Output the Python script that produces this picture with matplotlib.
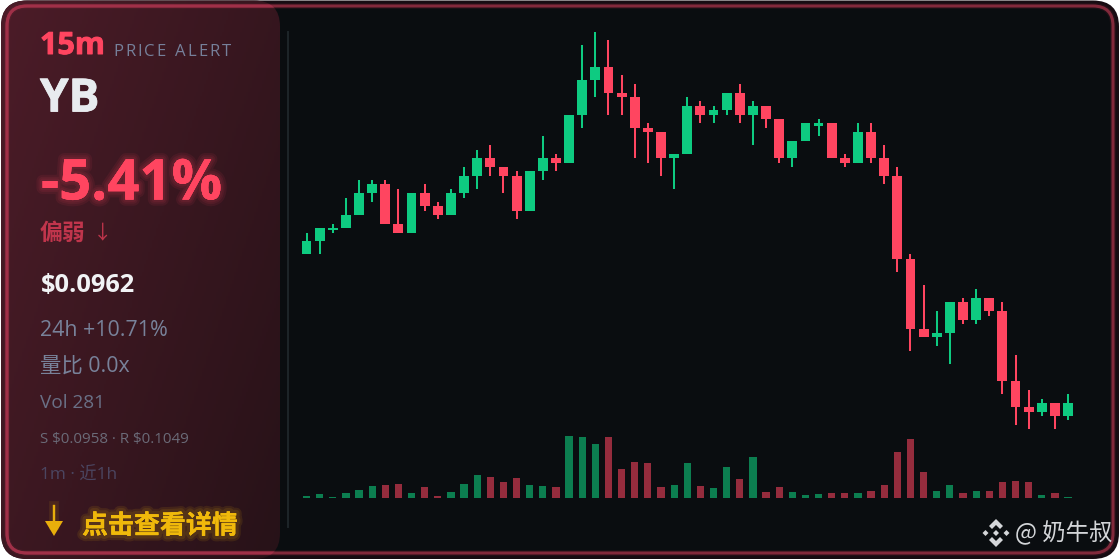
import numpy as np
import matplotlib
matplotlib.use('Agg')
import matplotlib.pyplot as plt
import matplotlib.patheffects as pe
from matplotlib.patches import FancyBboxPatch, Polygon

# price data, in units of 0.0001
opens = [996, 999, 1002, 1002, 1005, 1010, 1012, 1003, 1001, 1010, 1007, 1005, 1010, 1014, 1018, 1016, 1014, 1006, 1015, 1018,
         1017, 1028, 1036, 1039, 1033, 1032, 1025, 1024, 1018, 1019, 1030, 1028, 1029, 1033, 1028, 1030, 1027, 1018, 1022, 1026,
         1026, 1018, 1017, 1024, 1018, 1014, 995, 979, 977, 978, 985, 981, 986, 983, 967, 961, 960, 962, 959]
highs = [1001, 1002, 1003, 1009, 1013, 1013, 1013, 1011, 1010, 1012, 1008, 1011, 1016, 1020, 1021, 1016, 1015, 1015, 1023, 1019,
         1028, 1044, 1047, 1045, 1037, 1035, 1026, 1024, 1019, 1032, 1031, 1030, 1033, 1035, 1031, 1030, 1027, 1022, 1026, 1027,
         1026, 1019, 1026, 1026, 1021, 1016, 996, 989, 983, 985, 986, 988, 986, 985, 973, 965, 963, 962, 964]
lows = [996, 996, 1001, 1002, 1005, 1008, 1003, 1001, 1001, 1006, 1004, 1005, 1009, 1011, 1014, 1010, 1004, 1006, 1013, 1015,
        1017, 1025, 1032, 1028, 1028, 1018, 1017, 1014, 1011, 1019, 1026, 1026, 1028, 1026, 1021, 1025, 1017, 1016, 1022, 1023,
        1018, 1016, 1017, 1017, 1012, 992, 974, 977, 975, 971, 980, 980, 982, 964, 957, 956, 959, 956, 958]
closes = [999, 1002, 1002, 1005, 1010, 1012, 1003, 1001, 1010, 1007, 1005, 1010, 1014, 1018, 1016, 1014, 1006, 1015, 1018, 1017,
          1028, 1036, 1039, 1033, 1032, 1025, 1024, 1018, 1019, 1030, 1028, 1029, 1033, 1028, 1030, 1027, 1018, 1022, 1026, 1026,
          1018, 1017, 1024, 1018, 1014, 995, 979, 977, 978, 985, 981, 986, 983, 967, 961, 960, 962, 959, 962]
volumes = [5, 10, 2, 13, 22, 36, 39, 42, 14, 32, 6, 16, 42, 68, 62, 47, 58, 37, 35, 32,
           184, 182, 160, 181, 86, 108, 103, 31, 37, 103, 35, 30, 91, 56, 121, 16, 31, 16, 7, 10,
           15, 13, 15, 19, 37, 136, 177, 76, 20, 37, 14, 20, 21, 48, 51, 46, 8, 14, 2]

W, H = 1120, 560
GREEN = '#0ecb81'
RED2 = '#ff4560'
CJK = ['Noto Sans CJK SC', 'DejaVu Sans']
LATIN = ['Open Sans', 'Noto Sans CJK SC', 'DejaVu Sans']

fig = plt.figure(figsize=(W / 100, H / 100), dpi=100, facecolor='white')

# background layer in pixel coordinates
bg = fig.add_axes([0, 0, 1, 1])
bg.axis('off')

card = FancyBboxPatch((1, 0.5), W - 2, H - 1.5, boxstyle='round,pad=0,rounding_size=26',
                      fc='#170c12', ec='none', zorder=1)
bg.add_patch(card)
inner = FancyBboxPatch((7, 6), W - 14, H - 13, boxstyle='round,pad=0,rounding_size=20',
                       fc='#0a0d10', ec='none', zorder=2)
bg.add_patch(inner)

# left panel with a diagonal gradient
yy, xx = np.mgrid[0:1:140j, 0:1:140j]
t = (xx * 0.6 + yy * 0.4)[..., None]
c0 = np.array([0x4c, 0x1c, 0x28]) / 255
c1 = np.array([0x27, 0x12, 0x18]) / 255
grad = bg.imshow(c0 + (c1 - c0) * t, extent=(0, 280, 560, 0), aspect='auto', zorder=3)
panel = FancyBboxPatch((1, 0.5), 279, H - 1.5, boxstyle='round,pad=0,rounding_size=26',
                       fc='none', ec='none', zorder=3)
bg.add_patch(panel)
grad.set_clip_path(panel)
bg.set_xlim(0, W)
bg.set_ylim(H, 0)
# soft halo, then the border itself, brighter where it crosses the panel
bg.add_patch(FancyBboxPatch((7, 6), W - 14, H - 13, boxstyle='round,pad=0,rounding_size=20',
                            fc='none', ec='#8b2c3f', lw=4, alpha=0.15, zorder=4))
bg.add_patch(FancyBboxPatch((7, 6), W - 14, H - 13, boxstyle='round,pad=0,rounding_size=20',
                            fc='none', ec='#82293b', lw=2.2, zorder=4))
lit = FancyBboxPatch((7, 6), W - 14, H - 13, boxstyle='round,pad=0,rounding_size=20',
                     fc='none', ec='#a03048', lw=2.2, zorder=4)
bg.add_patch(lit)
lit.set_clip_path(panel)
bg.plot([288, 288], [32, 527], color='#1e2529', lw=1.4, zorder=4)

# candles
x = np.arange(len(closes))
x0 = 306.5
step = 13.13
xlim = ((288 - x0) / step, (1100 - x0) / step)

o = np.array(opens) / 1e4
h = np.array(highs) / 1e4
l = np.array(lows) / 1e4
c = np.array(closes) / 1e4
tick = 1e-4
min_body = tick * 0.5

ax = fig.add_axes([288 / W, 1 - 431 / H, 812 / W, 410 / H])
ax.set_xlim(xlim)
ax.set_ylim(0.0962 + (402 - 430) / 4.37 * tick, 0.0962 + (402 - 20) / 4.37 * tick)
ax.axis('off')
up = c >= o
colors = np.where(up, GREEN, RED2)
ax.vlines(x, l, h, colors=colors, lw=1.45, zorder=2)
tops = np.maximum(o, c)
heights = np.maximum(np.abs(c - o), min_body)
ax.bar(x, heights, width=0.75, bottom=tops - heights, color=colors, zorder=3)

# volume
vax = fig.add_axes([288 / W, 1 - 497.7 / H, 812 / W, 67.7 / H])
vax.set_xlim(xlim)
vax.set_ylim(0, 203)
vax.axis('off')
vcolors = np.where(up, '#0c7e50', '#952c3d')
vax.bar(x, volumes, width=0.55, color=vcolors)


# left panel text
def glow(color, widths, alpha):
    return [pe.withStroke(linewidth=w, foreground=color, alpha=alpha) for w in widths] + [pe.Normal()]


def heavy(color, w):
    return [pe.withStroke(linewidth=w, foreground=color)]


txt = fig.add_axes([0, 0, 1, 1])
txt.set_xlim(0, W)
txt.set_ylim(H, 0)
txt.axis('off')

txt.text(40, 46, '15m', color=RED2, fontsize=22, fontweight='bold', family=LATIN, va='center',
         path_effects=heavy(RED2, 0.7))

# letterspaced label
renderer = fig.canvas.get_renderer()
px = 113
for ch in 'PRICE ALERT':
    t_ = txt.text(px, 52, ch, color='#76809a', fontsize=12, family=LATIN, va='center')
    adv = t_.get_window_extent(renderer).width if ch != ' ' else 4.5
    px += adv + 2.1

txt.text(40, 99, 'YB', color='#e8ebef', fontsize=33, fontweight='bold', family=LATIN, va='center',
         path_effects=heavy('#e8ebef', 0.6))
txt.text(41, 185, '-5.41%', color=RED2, fontsize=40.5, fontweight='bold', family=LATIN, va='center',
         path_effects=glow(RED2, [9, 6, 3.5], 0.08))
txt.text(40, 233, '偏弱', color='#c0354c', fontsize=16.5, fontweight='bold', family=CJK, va='center')
txt.text(93, 233, '↓', color='#c0354c', fontsize=14, family=LATIN, va='center')
txt.text(41, 285, r'\$0.0962', color='#f1f3f5', fontsize=18.3, fontweight='bold', family=LATIN, va='center')
txt.text(40, 331, '24h +10.71%', color='#78829a', fontsize=15.4, family=LATIN, va='center')
txt.text(40, 366, '量比 0.0x', color='#78829a', fontsize=15.4, family=LATIN, va='center')
txt.text(40, 403, 'Vol 281', color='#6a7086', fontsize=13.7, family=LATIN, va='center')
txt.text(40, 440, r'S \$0.0958 · R \$0.1049', color='#6b6b78', fontsize=10.9, family=LATIN, va='center')
txt.text(40, 476, '1m · 近1h', color='#4b4560', fontsize=12.4, family=LATIN, va='center')
txt.text(82, 526, '点击查看详情', color='#f0b90b', fontsize=18.7, fontweight='bold', family=CJK, va='center',
         path_effects=glow('#f0b90b', [8, 5], 0.1))

# arrow icon
arrow_glow = [pe.withStroke(linewidth=7, foreground='#f0b90b', alpha=0.1), pe.Normal()]
txt.plot([54, 54], [506, 525], color='#e8ae0c', lw=1.6, path_effects=arrow_glow)
txt.add_patch(Polygon([[45, 521], [63, 521], [54, 536]], fc='#e8ae0c', ec='none'))


# watermark
def diamond(cx, cy, r):
    return [[cx, cy - r], [cx + r, cy], [cx, cy + r], [cx - r, cy]]


wm = '#d4d6d9'
cx, cy = 996, 533
txt.add_patch(Polygon([[cx, cy - 14], [cx + 7, cy - 7], [cx + 4, cy - 4], [cx, cy - 8], [cx - 4, cy - 4], [cx - 7, cy - 7]], fc=wm, ec='none'))
txt.add_patch(Polygon([[cx, cy + 14], [cx + 7, cy + 7], [cx + 4, cy + 4], [cx, cy + 8], [cx - 4, cy + 4], [cx - 7, cy + 7]], fc=wm, ec='none'))
txt.add_patch(Polygon(diamond(cx - 10.5, cy, 3), fc=wm, ec='none'))
txt.add_patch(Polygon(diamond(cx + 10.5, cy, 3), fc=wm, ec='none'))
txt.add_patch(Polygon(diamond(cx, cy, 3), fc=wm, ec='none'))
txt.text(1015, 533, '@ 奶牛叔', color=wm, fontsize=16.8, family=CJK, va='center')

fig.savefig('out.png', dpi=100, facecolor='white')
